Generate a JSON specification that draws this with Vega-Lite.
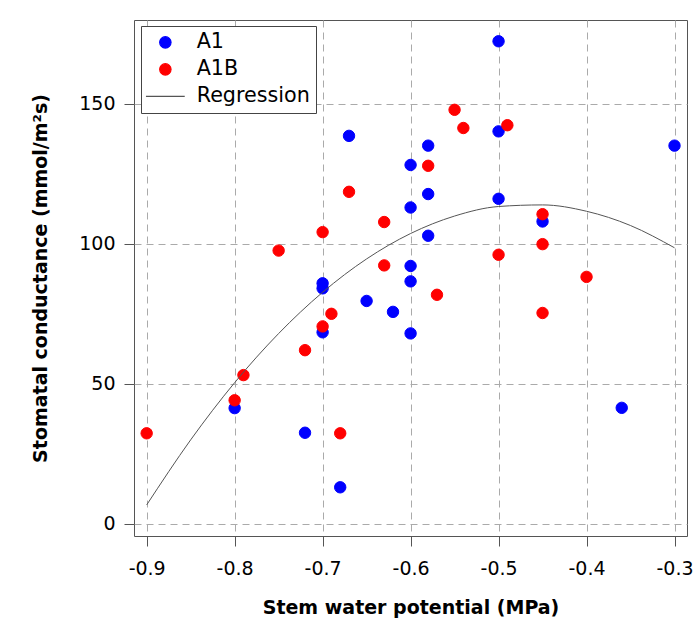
{
  "$schema": "https://vega.github.io/schema/vega-lite/v6.json",
  "width": 553,
  "height": 516,
  "autosize": {"type": "none"},
  "padding": {"left": 134, "top": 20, "right": 11, "bottom": 96},
  "background": "white",
  "config": {
    "view": {"stroke": "#555555", "strokeWidth": 1},
    "axis": {
      "domain": false,
      "grid": true,
      "gridColor": "#aaaaaa",
      "gridDash": [7, 5],
      "gridWidth": 1,
      "tickColor": "#555555",
      "tickSize": 10,
      "labelFont": "DejaVu Sans",
      "labelFontSize": 19,
      "labelColor": "#000000",
      "titleFont": "DejaVu Sans",
      "titleFontSize": 19,
      "titleFontWeight": "bold",
      "titleColor": "#000000"
    },
    "legend": {
      "orient": "none",
      "legendX": 7,
      "legendY": 6,
      "strokeColor": "#444444",
      "fillColor": "white",
      "padding": 6,
      "symbolSize": 130,
      "symbolStrokeWidth": 1.2,
      "symbolOffset": 8,
      "labelFont": "DejaVu Sans",
      "labelFontSize": 20.7,
      "labelColor": "#000000",
      "labelOffset": 21,
      "rowPadding": 5
    }
  },
  "layer": [
    {
      "data": {
        "values": [
          {"swp": -0.5, "gs": 172.4, "series": "A1"},
          {"swp": -0.5, "gs": 140.2, "series": "A1"},
          {"swp": -0.3, "gs": 135.1, "series": "A1"},
          {"swp": -0.58, "gs": 135.1, "series": "A1"},
          {"swp": -0.6, "gs": 128.2, "series": "A1"},
          {"swp": -0.58, "gs": 117.8, "series": "A1"},
          {"swp": -0.6, "gs": 113.0, "series": "A1"},
          {"swp": -0.5, "gs": 116.1, "series": "A1"},
          {"swp": -0.45, "gs": 108.0, "series": "A1"},
          {"swp": -0.58, "gs": 102.9, "series": "A1"},
          {"swp": -0.6, "gs": 92.1, "series": "A1"},
          {"swp": -0.6, "gs": 86.6, "series": "A1"},
          {"swp": -0.67, "gs": 138.6, "series": "A1"},
          {"swp": -0.7, "gs": 85.9, "series": "A1"},
          {"swp": -0.7, "gs": 84.1, "series": "A1"},
          {"swp": -0.65, "gs": 79.6, "series": "A1"},
          {"swp": -0.62, "gs": 75.7, "series": "A1"},
          {"swp": -0.6, "gs": 68.0, "series": "A1"},
          {"swp": -0.7, "gs": 68.4, "series": "A1"},
          {"swp": -0.8, "gs": 41.3, "series": "A1"},
          {"swp": -0.72, "gs": 32.5, "series": "A1"},
          {"swp": -0.68, "gs": 13.0, "series": "A1"},
          {"swp": -0.36, "gs": 41.4, "series": "A1"},
          {"swp": -0.55, "gs": 147.9, "series": "A1B"},
          {"swp": -0.54, "gs": 141.4, "series": "A1B"},
          {"swp": -0.49, "gs": 142.4, "series": "A1B"},
          {"swp": -0.58, "gs": 127.9, "series": "A1B"},
          {"swp": -0.45, "gs": 110.6, "series": "A1B"},
          {"swp": -0.45, "gs": 99.9, "series": "A1B"},
          {"swp": -0.5, "gs": 96.1, "series": "A1B"},
          {"swp": -0.4, "gs": 88.2, "series": "A1B"},
          {"swp": -0.57, "gs": 81.8, "series": "A1B"},
          {"swp": -0.45, "gs": 75.3, "series": "A1B"},
          {"swp": -0.67, "gs": 118.6, "series": "A1B"},
          {"swp": -0.63, "gs": 107.8, "series": "A1B"},
          {"swp": -0.7, "gs": 104.2, "series": "A1B"},
          {"swp": -0.75, "gs": 97.6, "series": "A1B"},
          {"swp": -0.63, "gs": 92.3, "series": "A1B"},
          {"swp": -0.69, "gs": 75.0, "series": "A1B"},
          {"swp": -0.7, "gs": 70.5, "series": "A1B"},
          {"swp": -0.72, "gs": 62.0, "series": "A1B"},
          {"swp": -0.79, "gs": 53.1, "series": "A1B"},
          {"swp": -0.8, "gs": 44.1, "series": "A1B"},
          {"swp": -0.9, "gs": 32.3, "series": "A1B"},
          {"swp": -0.68, "gs": 32.3, "series": "A1B"}
        ]
      },
      "mark": {"type": "point", "filled": true, "size": 130, "strokeWidth": 1, "opacity": 1},
      "encoding": {
        "x": {
          "field": "swp", "type": "quantitative",
          "scale": {"domain": [-0.9144, -0.2858], "nice": false, "zero": false},
          "axis": {
            "values": [-0.9, -0.8, -0.7, -0.6, -0.5, -0.4, -0.3],
            "labelExpr": "'-' + format(-datum.value, '.1f')",
            "labelPadding": 13,
            "title": "Stem water potential (MPa)",
            "titlePadding": 20
          }
        },
        "y": {
          "field": "gs", "type": "quantitative",
          "scale": {"domain": [-4.4, 180], "nice": false, "zero": false},
          "axis": {
            "values": [0, 50, 100, 150],
            "labelPadding": 9,
            "title": "Stomatal conductance (mmol/m²s)",
            "titlePadding": 28
          }
        },
        "fill": {
          "field": "series", "type": "nominal",
          "scale": {"domain": ["A1", "A1B", "Regression"], "range": ["#0000ff", "#ff0000", "#555555"]},
          "legend": {"title": null}
        },
        "stroke": {
          "field": "series", "type": "nominal",
          "scale": {"domain": ["A1", "A1B", "Regression"], "range": ["#0000ff", "#ff0000", "#555555"]},
          "legend": {"title": null}
        },
        "shape": {
          "field": "series", "type": "nominal",
          "scale": {"domain": ["A1", "A1B", "Regression"], "range": ["circle", "circle", "M-3.4,0H3.4"]},
          "legend": {"title": null}
        }
      }
    },
    {
      "data": {
        "values": [
          {"swp": -0.9, "gs": 6.7, "series": "Regression"},
          {"swp": -0.85, "gs": 29.95, "series": "Regression"},
          {"swp": -0.8, "gs": 50.4, "series": "Regression"},
          {"swp": -0.75, "gs": 67.96, "series": "Regression"},
          {"swp": -0.7, "gs": 82.7, "series": "Regression"},
          {"swp": -0.65, "gs": 94.62, "series": "Regression"},
          {"swp": -0.6, "gs": 103.7, "series": "Regression"},
          {"swp": -0.55, "gs": 109.94, "series": "Regression"},
          {"swp": -0.5, "gs": 113.35, "series": "Regression"},
          {"swp": -0.45, "gs": 113.92, "series": "Regression"},
          {"swp": -0.4, "gs": 111.65, "series": "Regression"},
          {"swp": -0.35, "gs": 106.55, "series": "Regression"},
          {"swp": -0.3, "gs": 98.6, "series": "Regression"}
        ]
      },
      "mark": {"type": "line", "strokeWidth": 1, "interpolate": "monotone"},
      "encoding": {
        "x": {"field": "swp", "type": "quantitative"},
        "y": {"field": "gs", "type": "quantitative"},
        "stroke": {"field": "series", "type": "nominal", "legend": {"title": null}}
      }
    }
  ]
}
